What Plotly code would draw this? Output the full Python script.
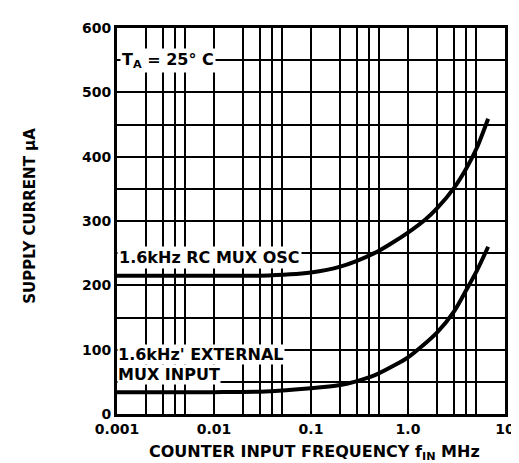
import plotly.graph_objects as go

# ---- data ----
rc_freq = [0.001, 0.01, 0.03, 0.1, 0.2, 0.45, 0.67, 1.0, 1.5, 2.0, 3.0, 4.0, 5.1, 6.7]
rc_current = [215, 215, 215, 220, 229, 250, 265, 282, 302, 320, 352, 382, 413, 459]

ext_freq = [0.001, 0.01, 0.034, 0.1, 0.2, 0.28, 0.45, 0.67, 1.0, 2.0, 3.0, 4.0, 5.1, 6.7]
ext_current = [34, 34, 35, 40, 45, 50, 60, 73, 88, 127, 160, 193, 222, 260]

x_tick_vals = [0.001, 0.01, 0.1, 1.0, 10]
x_tick_text = ["0.001", "0.01", "0.1", "1.0", "10"]
x_minor_vals = [m * d for d in [0.001, 0.01, 0.1, 1.0] for m in [2, 3, 4, 5]]
y_tick_vals = [0, 100, 200, 300, 400, 500, 600]

FONT = "DejaVu Sans, Liberation Sans, Arial, sans-serif"

fig = go.Figure()
for fx, fy in [(rc_freq, rc_current), (ext_freq, ext_current)]:
    fig.add_trace(go.Scatter(x=fx, y=fy, mode="lines",
                             line=dict(color="black", width=4, shape="spline", smoothing=0.8),
                             showlegend=False, hoverinfo="skip"))

L, R, T, B = 109, 17, 13, 57
W, H = 519, 463
PW, PH = W - L - R, H - T - B

fig.update_layout(
    width=W, height=H,
    margin=dict(l=L, r=R, t=T, b=B),
    paper_bgcolor="white", plot_bgcolor="white",
    font=dict(family=FONT, color="black"),
    xaxis=dict(type="log", range=[-3, 1], tickvals=x_tick_vals, ticktext=x_tick_text,
               showgrid=True, gridcolor="black", gridwidth=2,
               minor=dict(tickvals=x_minor_vals, showgrid=True, gridcolor="black", gridwidth=2),
               showline=True, linecolor="black", linewidth=3, mirror=True,
               ticks="", tickfont=dict(size=14, family=FONT, weight="bold"),
               zeroline=False),
    yaxis=dict(range=[0, 600], tickvals=y_tick_vals,
               showgrid=True, gridcolor="black", gridwidth=1.5,
               minor=dict(dtick=50, showgrid=True, gridcolor="black", gridwidth=1.5),
               showline=True, linecolor="black", linewidth=3, mirror=True,
               ticks="", tickfont=dict(size=14, family=FONT, weight="bold"),
               zeroline=False),
)

lab_font = dict(size=16, family=FONT, color="black", weight="bold")
fig.add_annotation(x=-2.47, y=550, xref="x", yref="y", text="T<sub>A</sub> = 25° C",
                   showarrow=False, bgcolor="white", font=lab_font, borderpad=1)
fig.add_annotation(x=-3.0, y=244, xref="x", yref="y", text="1.6kHz RC MUX OSC",
                   xanchor="left", showarrow=False, bgcolor="white", font=lab_font, borderpad=1)
fig.add_annotation(x=-3.0, y=92, xref="x", yref="y", text="1.6kHz' EXTERNAL",
                   xanchor="left", showarrow=False, bgcolor="white", font=lab_font, borderpad=0)
fig.add_annotation(x=-3.0, y=61, xref="x", yref="y", text="MUX INPUT",
                   xanchor="left", showarrow=False, bgcolor="white", font=lab_font, borderpad=0)

fig.add_annotation(xref="x domain", yref="y domain",
                   x=(20 - L) / PW, y=(H - B - 204) / PH, xanchor="center", yanchor="middle",
                   text="SUPPLY CURRENT μA", showarrow=False, textangle=-90,
                   font=dict(size=15, family=FONT, weight="bold"))
fig.add_annotation(xref="x domain", yref="y domain",
                   x=(309 - L) / PW, y=-(445 - (H - B)) / PH, xanchor="center", yanchor="middle",
                   text="COUNTER INPUT FREQUENCY f<sub>IN</sub> MHz", showarrow=False,
                   font=dict(size=16, family=FONT, weight="bold"))

fig.write_html("out.html")
